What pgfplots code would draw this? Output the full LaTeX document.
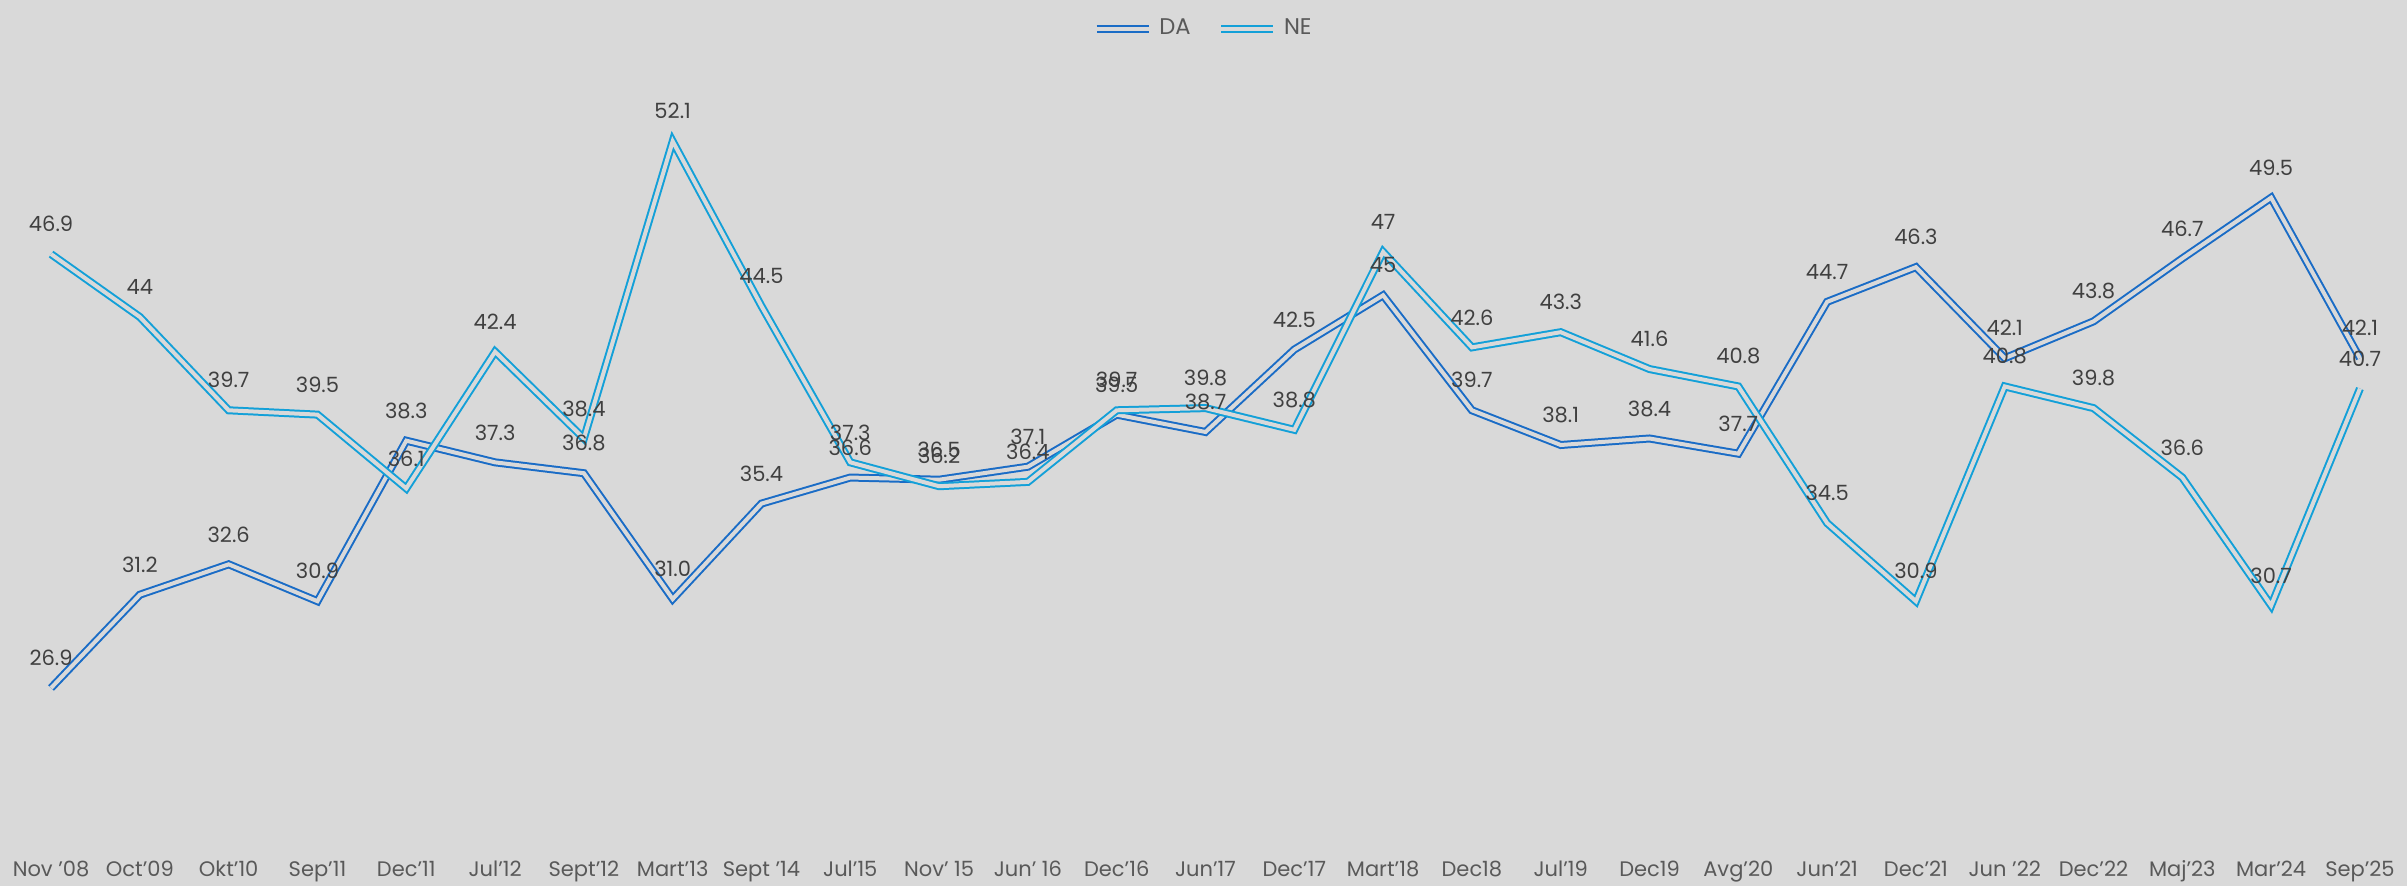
\documentclass[border=0pt]{standalone}
\usepackage{pgfplots}
\pgfplotsset{compat=1.18}
\usepackage{pgfplotstable}
\usepackage{fontspec}
\setmainfont{Poppins}

\definecolor{bgc}{HTML}{D9D9D9}
\definecolor{daC}{HTML}{1A6CC6}
\definecolor{neC}{HTML}{13A0D8}
\definecolor{lblC}{HTML}{404040}
\definecolor{tickC}{HTML}{595959}

% x  value  label
\pgfplotstableread{
x y lab
0 26.9 26.9
1 31.2 31.2
2 32.6 32.6
3 30.9 30.9
4 38.3 38.3
5 37.3 37.3
6 36.8 36.8
7 31.0 31.0
8 35.4 35.4
9 36.6 36.6
10 36.5 36.5
11 37.1 37.1
12 39.5 39.5
13 38.7 38.7
14 42.5 42.5
15 45 45
16 39.7 39.7
17 38.1 38.1
18 38.4 38.4
19 37.7 37.7
20 44.7 44.7
21 46.3 46.3
22 42.1 42.1
23 43.8 43.8
24 46.7 46.7
25 49.5 49.5
26 42.1 42.1
}\daData

\pgfplotstableread{
x y lab
0 46.9 46.9
1 44 44
2 39.7 39.7
3 39.5 39.5
4 36.1 36.1
5 42.4 42.4
6 38.4 38.4
7 52.1 52.1
8 44.5 44.5
9 37.3 37.3
10 36.2 36.2
11 36.4 36.4
12 39.7 39.7
13 39.8 39.8
14 38.8 38.8
15 47 47
16 42.6 42.6
17 43.3 43.3
18 41.6 41.6
19 40.8 40.8
20 34.5 34.5
21 30.9 30.9
22 40.8 40.8
23 39.8 39.8
24 36.6 36.6
25 30.7 30.7
26 40.7 40.7
}\neData

\begin{document}
\begin{tikzpicture}
\fill[bgc, use as bounding box] (-2pt,-14.5pt) rectangle (720.1pt,251.3pt);
\begin{axis}[
    at={(0,0)}, anchor=south west,
    scale only axis,
    width=719.3pt, height=234.3pt,
    xmin=-0.5, xmax=26.5,
    ymin=20, ymax=56,
    clip=false,
    axis line style={draw=none},
    major tick length=0pt,
    ytick=\empty,
    xtick={0,...,26},
    xticklabels={Nov '08, Oct'09, Okt'10, Sep'11, Dec'11, Jul'12, Sept'12, Mart'13, Sept '14, Jul'15, Nov' 15, Jun' 16, Dec'16, Jun'17, Dec'17, Mart'18, Dec18, Jul'19, Dec19, Avg'20, Jun'21, Dec'21, Jun '22, Dec'22, Maj'23, Mar'24, Sep'25},
    xticklabel style={font=\fontsize{6.3}{7}\selectfont, text=tickC, anchor=mid, yshift=-8.8pt},
    every axis plot/.append style={line width=0.6pt, double=bgc, double distance=1.2pt},
    point meta=explicit symbolic,
    nodes near coords={\pgfplotspointmeta},
    nodes near coords style={font=\fontsize{6.3}{7}\selectfont, text=lblC, anchor=center, yshift=9pt},
    legend columns=2,
    legend style={at={(0.5,1)}, anchor=center, yshift=8.3pt, draw=none, fill=none,
        font=\fontsize{6.8}{8}\selectfont, text=tickC,
        /tikz/every even column/.append style={column sep=6pt},
        inner sep=0pt},
    legend image code/.code={\draw[#1] (0pt,0pt) -- (15.6pt,0pt);},
]
\addplot[draw=daC] table[x=x, y=y, meta=lab] {\daData};
\addlegendentry{DA}
\addplot[draw=neC] table[x=x, y=y, meta=lab] {\neData};
\addlegendentry{NE}
\end{axis}
\end{tikzpicture}
\end{document}
